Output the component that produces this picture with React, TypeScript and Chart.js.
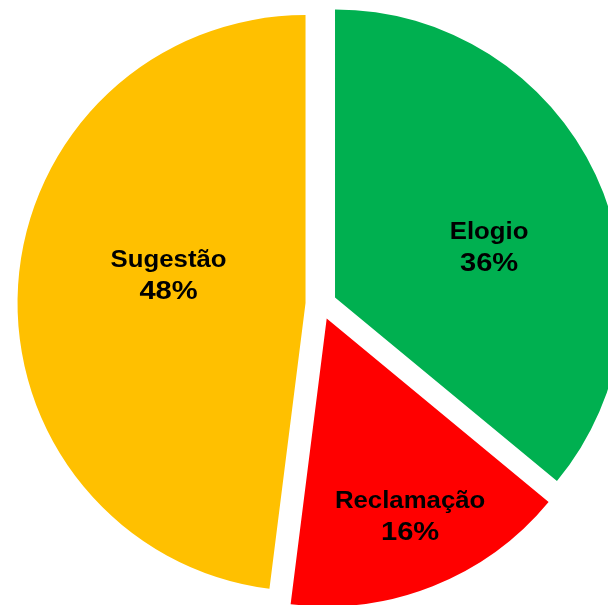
import React, { useEffect, useRef } from "react";
import { Chart, registerables } from "chart.js";

Chart.register(...registerables);

const categories = ["Elogio", "Reclamação", "Sugestão"];
const values = [36, 16, 48];
const percentLabels = ["36%", "16%", "48%"];
const colors = ["#00B050", "#FF0000", "#FFC000"];
const explodeDistance = 15.5;
const labelRadius = [0.564, 0.741, 0.486];
const labelAngleShift = [6.75, -1.4, 8.3];

export default function App() {
  const ref = useRef<HTMLCanvasElement | null>(null);

  useEffect(() => {
    if (!ref.current) return;

    const explodePlugin = {
      id: "explodeSlices",
      afterDatasetUpdate(_chart: any, args: any) {
        args.meta.data.forEach((arc: any) => {
          const mid = (arc.startAngle + arc.endAngle) / 2;
          arc.x += Math.cos(mid) * explodeDistance;
          arc.y += Math.sin(mid) * explodeDistance;
        });
      },
    };

    const labelPlugin = {
      id: "sliceLabels",
      afterDatasetsDraw(chart: any) {
        const ctx = chart.ctx as CanvasRenderingContext2D;
        const meta = chart.getDatasetMeta(0);
        meta.data.forEach((arc: any, i: number) => {
          const mid =
            (arc.startAngle + arc.endAngle) / 2 +
            (labelAngleShift[i] * Math.PI) / 180;
          const r = arc.outerRadius * labelRadius[i];
          const cx = arc.x + Math.cos(mid) * r;
          const cy = arc.y + Math.sin(mid) * r;
          ctx.save();
          ctx.translate(cx, cy);
          ctx.scale(1.12, 1);
          ctx.fillStyle = "#000000";
          ctx.textAlign = "center";
          ctx.textBaseline = "alphabetic";
          ctx.font = 'bold 23px "Liberation Sans", Arial, sans-serif';
          ctx.fillText(categories[i], 0, -15.5 + 0.358 * 23);
          ctx.font = 'bold 26px "Liberation Sans", Arial, sans-serif';
          ctx.fillText(percentLabels[i], 0, 15.5 + 0.358 * 26);
          ctx.restore();
        });
      },
    };

    const chart = new Chart(ref.current, {
      type: "pie",
      data: {
        labels: categories,
        datasets: [
          {
            data: values,
            backgroundColor: colors,
            borderWidth: 0,
          },
        ],
      },
      options: {
        responsive: false,
        animation: false,
        events: [],
        layout: { padding: { left: 33, top: 16, right: 91, bottom: 108 } },
        plugins: {
          legend: { display: false },
          tooltip: { enabled: false },
        },
      },
      plugins: [explodePlugin, labelPlugin],
    });

    return () => chart.destroy();
  }, []);

  return (
    <div
      style={{
        position: "fixed",
        left: 0,
        top: 0,
        width: 608,
        height: 605,
        overflow: "hidden",
        background: "#ffffff",
      }}
    >
      <canvas
        ref={ref}
        width={700}
        height={700}
        style={{ position: "absolute", left: 0, top: 0 }}
      />
    </div>
  );
}
